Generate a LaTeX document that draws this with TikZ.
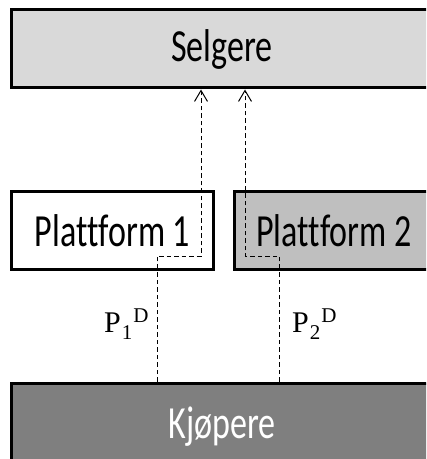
\documentclass[tikz,border=0pt]{standalone}
\usepackage{fontspec}
\usepackage{graphicx}
\setmainfont{Liberation Serif}
\newfontfamily\calfont[Ligatures={NoCommon}]{Carlito}
\usetikzlibrary{arrows.meta}
\definecolor{selg}{HTML}{D9D9D9}
\definecolor{plat}{HTML}{BFBFBF}
\definecolor{kjop}{HTML}{7F7F7F}
\tikzset{
  box/.style={draw=black, line width=3bp, inner sep=0pt, font=\calfont\fontsize{46bp}{48bp}\selectfont},
  flow/.style={draw=black, line width=1bp, dash pattern=on 4.5bp off 3bp},
  tip/.style={-{Straight Barb[length=11bp,width=13bp,line width=1bp]}},
  lab/.style={font=\fontsize{30bp}{32bp}\selectfont, inner sep=0pt, anchor=base west}
}
\newcommand{\sq}[1]{\scalebox{0.74}[1]{#1}}
\newcommand{\subsup}[2]{P\kern1bp\raisebox{-7bp}{\fontsize{21bp}{21bp}\selectfont #1}\kern1bp\raisebox{9.5bp}{\fontsize{21bp}{21bp}\selectfont #2}}
\begin{document}
\begin{tikzpicture}[x=1bp,y=-1bp]
\clip (0,0) rectangle (426,459);
\fill[white] (0,0) rectangle (426,459);
\node[box, fill=selg, minimum width=420bp, minimum height=78bp] (S) at (222,49) {\sq{Selgere}};
\node[box, fill=white, minimum width=201bp, minimum height=77bp] (P1) at (112.5,230.5) {\sq{Plattform 1}};
\node[box, fill=plat, minimum width=200bp, minimum height=77bp] (P2) at (334,230.5) {\sq{Plattform 2}};
\node[box, fill=kjop, text=white, minimum width=420bp, minimum height=87bp] (K) at (222,426.5) {\sq{Kjøpere}};
\coordinate (a1) at (157,256);
\coordinate (b1) at (201,256);
\coordinate (a2) at (279,256);
\coordinate (b2) at (245,256);
\draw[flow, tip] (K.north -| a1) -- (a1) -- (b1) -- (S.south -| b1);
\draw[flow, tip] (K.north -| a2) -- (a2) -- (b2) -- (S.south -| b2);
\node[lab] (L1) at (104,332) {\subsup{1}{D}};
\node[lab] (L2) at (292,332) {\subsup{2}{D}};
\end{tikzpicture}
\end{document}
